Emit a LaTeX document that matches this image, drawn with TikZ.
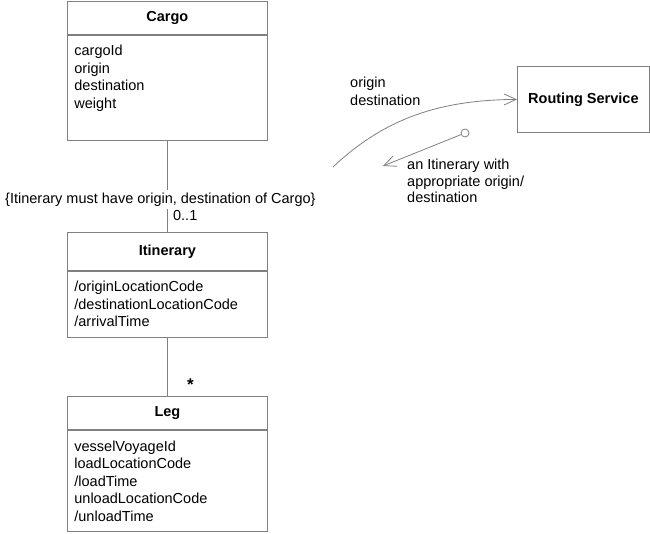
\documentclass[tikz,border=0pt]{standalone}
\usepackage{fontspec}
\setmainfont{Liberation Sans}
\usepackage{tikz}
\usetikzlibrary{positioning}
\usetikzlibrary{arrows.meta}

\definecolor{umlgray}{RGB}{128,128,128}

\begin{document}
\begin{tikzpicture}[
            x = 1pt, y = -1pt, % pixel grid, y runs down
            > = {Straight Barb[length=12pt,width=11pt]}, % open arrow head
            node distance = 0pt, % boxes stacked
            font = \fontsize{14.5}{17.5}\selectfont
        ]

        \tikzstyle{title}=[
            draw = umlgray,
            line width = 0.8pt,
            minimum width = 200pt,
            inner sep = 0pt,
            font = \fontsize{14.5}{17.5}\selectfont\bfseries
        ]
        \tikzstyle{attrs}=[
            draw = umlgray,
            line width = 0.8pt,
            text width = 186pt,
            align = left,
            inner xsep = 7pt,
            inner ysep = 8pt
        ]
        \tikzstyle{link}=[draw = umlgray, line width = 0.8pt]

        \useasboundingbox (0,0) rectangle (650,534);

	% cargo
        \node[title, minimum height=33pt, anchor=north west] (cargo) at (67,1) {Cargo};
        \node[attrs, below=of cargo, inner ysep=10pt, text depth=75pt] (cargoattr) {cargoId\\origin\\destination\\weight};

	% itinerary
        \node[title, minimum height=38pt, anchor=north west] (itin) at (67,232) {Itinerary};
        \node[attrs, below=of itin, minimum height=66pt] (itinattr) {/originLocationCode\\/destinationLocationCode\\/arrivalTime};

        \path[link] (cargoattr) -- node[pos=0.64, fill=white, inner sep=3pt, xshift=-7pt] (rule) {\{Itinerary must have origin, destination of Cargo\}}
            node[pos=0.82, anchor=west, xshift=2pt] (itinmult) {0..1} (itin);

	% leg
        \node[title, minimum height=33pt, anchor=north west] (leg) at (67,396) {Leg};
        \node[attrs, below=of leg, minimum height=101.5pt, inner ysep=6pt] (legattr) {vesselVoyageId\\loadLocationCode\\/loadTime\\unloadLocationCode\\/unloadTime};

        \path[link] (itinattr) -- node[pos=0.8, anchor=west, xshift=16pt, font=\fontsize{17}{17}\selectfont\bfseries] (legmult) {*} (leg);

	% routing service
        \node[title, minimum width=132pt, minimum height=66pt, anchor=north west] (routing) at (517,66) {Routing Service};

        \coordinate (querystart) at (333,167);
        \path[link, ->] (querystart) .. controls (385,118) and (440,100) .. (routing.west);
        \node[anchor=north west, align=left, inner sep=0pt] (query) at (350,77) {origin\\destination};

        \node[circle, draw=umlgray, line width=0.8pt, fill=white, minimum size=8pt, inner sep=0pt] (reply) at (465,133) {};
        \coordinate (replyend) at (383,166);
        \path[link, ->] (reply) -- (replyend);
        \node[anchor=north west, align=left, inner sep=0pt, font=\fontsize{14.5}{16.5}\selectfont] (answer) at (407,159) {an Itinerary with\\appropriate origin/\\destination};

  \end{tikzpicture}
\end{document}
